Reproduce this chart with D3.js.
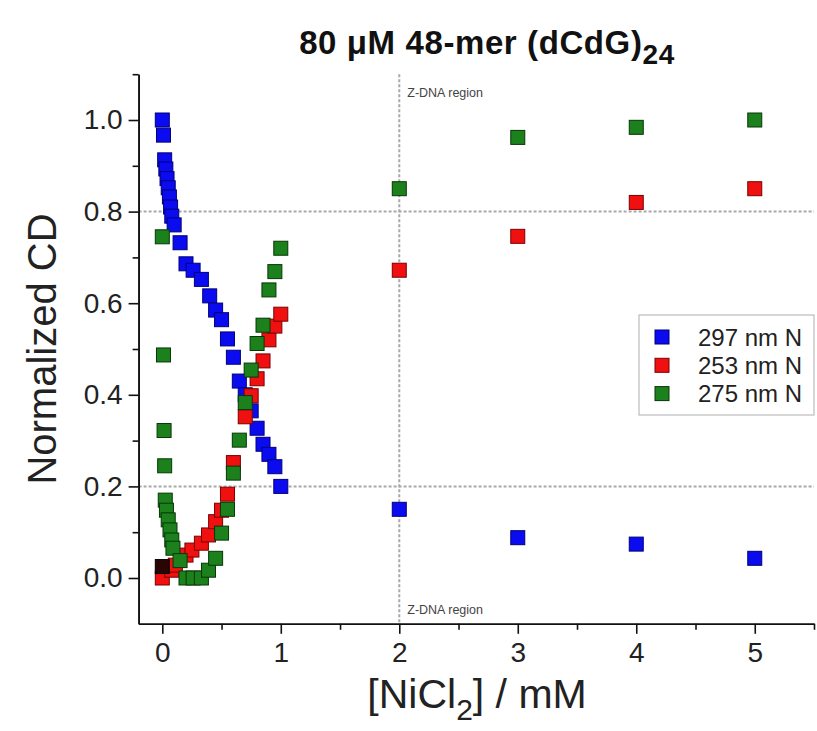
<!DOCTYPE html>
<html>
<head>
<meta charset="utf-8">
<script src="https://cdn.jsdelivr.net/npm/d3@7"></script>
<style>
  html, body { margin: 0; padding: 0; background: #fff; }
  svg { display: block; font-family: "Liberation Sans", Arial, sans-serif; }
</style>
</head>
<body>
<svg id="chart" width="817" height="731"></svg>
<script>
// ---------------- data ----------------
const seriesNames = ["297 nm N", "253 nm N", "275 nm N"];

const blueX = [0, 0.01, 0.02, 0.03, 0.04, 0.05, 0.06, 0.07, 0.08, 0.1, 0.15, 0.2, 0.26, 0.33, 0.4, 0.45, 0.5, 0.55, 0.6, 0.65, 0.7, 0.75, 0.8, 0.85, 0.9, 0.95, 1.0, 2, 3, 4, 5];
const blueY = [1.0, 0.967, 0.913, 0.893, 0.872, 0.852, 0.832, 0.81, 0.79, 0.771, 0.732, 0.686, 0.672, 0.652, 0.616, 0.585, 0.564, 0.522, 0.482, 0.43, 0.40, 0.365, 0.327, 0.292, 0.27, 0.243, 0.2, 0.15, 0.088, 0.074, 0.043];

const redX = [0, 0.08, 0.11, 0.2, 0.25, 0.33, 0.39, 0.45, 0.5, 0.55, 0.6, 0.7, 0.75, 0.8, 0.85, 0.9, 0.95, 1.0, 2, 3, 4, 5];
const redY = [0.0, 0.017, 0.028, 0.05, 0.061, 0.076, 0.094, 0.123, 0.148, 0.183, 0.252, 0.352, 0.398, 0.435, 0.474, 0.52, 0.55, 0.576, 0.672, 0.746, 0.82, 0.85];

const greenX = [0, 0.01, 0.015, 0.02, 0.025, 0.035, 0.05, 0.065, 0.08, 0.09, 0.15, 0.2, 0.26, 0.33, 0.39, 0.45, 0.5, 0.55, 0.6, 0.65, 0.7, 0.75, 0.8, 0.85, 0.9, 0.95, 1.0, 2, 3, 4, 5];
const greenY = [0.745, 0.487, 0.322, 0.245, 0.17, 0.148, 0.127, 0.105, 0.083, 0.065, 0.038, 0.0, 0.0, 0.0, 0.017, 0.043, 0.098, 0.15, 0.229, 0.301, 0.383, 0.454, 0.512, 0.552, 0.629, 0.669, 0.72, 0.85, 0.962, 0.984, 1.0];

// overlapping dark point near the origin
const darkX = [0];
const darkY = [0.025];

const xMajorTicks = [0, 1, 2, 3, 4, 5];
const xMinorTicks = [0.5, 1.5, 2.5, 3.5, 4.5, 5.5];
const yMajorTicks = [0.0, 0.2, 0.4, 0.6, 0.8, 1.0];
const yMinorTicks = [0.1, 0.3, 0.5, 0.7, 0.9, 1.1];
const refLinesY = [0.2, 0.8];
const refLineX = 2;
const regionLabel = "Z-DNA region";

(function draw() {
  const svg = d3.select("#chart");
  const pLeft = 138.6, pTop = 74.2, pRight = 814, pBottom = 623.8;

  const x = d3.scaleLinear().domain([-0.2, 5.5]).range([pLeft, pRight]);
  const y = d3.scaleLinear().domain([-0.1, 1.1]).range([pBottom, pTop]);

  // title
  const title = svg.append("text")
    .attr("x", 487).attr("y", 54)
    .attr("text-anchor", "middle")
    .attr("font-weight", "bold")
    .attr("font-size", 33)
    .attr("letter-spacing", 0.6)
    .attr("fill", "#111");
  title.append("tspan").text("80 \u03BCM 48-mer (dCdG)");
  title.append("tspan").attr("dy", 10).attr("font-size", 28).text("24");

  // reference dotted lines
  const refG = svg.append("g").attr("stroke", "#a8a8a8").attr("stroke-width", 2).attr("stroke-dasharray", "3,2");
  refLinesY.forEach(v => {
    refG.append("line").attr("x1", x(-0.2)).attr("x2", x(5.5)).attr("y1", y(v)).attr("y2", y(v));
  });
  refG.append("line").attr("x1", x(refLineX)).attr("x2", x(refLineX)).attr("y1", y(1.1)).attr("y2", y(-0.1));

  svg.append("text").attr("x", x(refLineX) + 8).attr("y", 97)
    .attr("font-size", 12.5).attr("fill", "#444").text(regionLabel);
  svg.append("text").attr("x", x(refLineX) + 8).attr("y", 614)
    .attr("font-size", 12.5).attr("fill", "#444").text(regionLabel);

  // axes
  const axisStyle = g => {
    g.selectAll("path, line").attr("stroke", "#111").attr("stroke-width", 1.6);
    g.selectAll("text").attr("fill", "#222").attr("font-family", "Liberation Sans, Arial, sans-serif");
  };

  svg.append("g").attr("transform", `translate(${pLeft},0)`)
    .call(d3.axisLeft(y).tickValues(yMinorTicks).tickSize(6).tickSizeOuter(0).tickFormat(""))
    .call(axisStyle);
  svg.append("g").attr("transform", `translate(${pLeft},0)`)
    .call(d3.axisLeft(y).tickValues(yMajorTicks).tickSize(10).tickSizeOuter(0).tickPadding(6).tickFormat(d3.format(".1f")))
    .call(axisStyle)
    .call(g => g.selectAll("text").attr("font-size", 28));

  svg.append("g").attr("transform", `translate(0,${pBottom})`)
    .call(d3.axisBottom(x).tickValues(xMinorTicks).tickSize(6).tickSizeOuter(0).tickFormat(""))
    .call(axisStyle);
  svg.append("g").attr("transform", `translate(0,${pBottom})`)
    .call(d3.axisBottom(x).tickValues(xMajorTicks).tickSize(10).tickSizeOuter(0).tickPadding(8).tickFormat(d3.format("d")))
    .call(axisStyle)
    .call(g => g.selectAll("text").attr("font-size", 28));

  // axis labels
  svg.append("text")
    .attr("transform", `translate(56,${(pTop + pBottom) / 2}) rotate(-90)`)
    .attr("text-anchor", "middle").attr("font-size", 40).attr("fill", "#222")
    .text("Normalized CD");

  const xl = svg.append("text")
    .attr("x", 477).attr("y", 708)
    .attr("text-anchor", "middle").attr("font-size", 41).attr("fill", "#222");
  xl.append("tspan").text("[NiCl");
  xl.append("tspan").attr("dy", 12).attr("font-size", 30).text("2");
  xl.append("tspan").attr("dy", -12).text("] / mM");

  // markers
  const S = 14;
  const series = [
    { name: seriesNames[0], xs: blueX, ys: blueY, fill: "#0b0bf0", stroke: "#00007a" },
    { name: seriesNames[1], xs: redX, ys: redY, fill: "#f01010", stroke: "#7a0000" },
    { name: seriesNames[2], xs: greenX, ys: greenY, fill: "#1c801c", stroke: "#063806" }
  ];

  series.forEach(s => {
    const pts = s.xs.map((v, i) => [v, s.ys[i]]);
    svg.append("g").selectAll("rect").data(pts).join("rect")
      .attr("x", d => x(d[0]) - S / 2).attr("y", d => y(d[1]) - S / 2)
      .attr("width", S).attr("height", S)
      .attr("fill", s.fill).attr("stroke", s.stroke).attr("stroke-width", 1);
  });

  svg.append("g").selectAll("rect").data(darkX.map((v, i) => [v, darkY[i]])).join("rect")
    .attr("x", d => x(d[0]) - S / 2).attr("y", d => y(d[1]) - S / 2)
    .attr("width", S).attr("height", S)
    .attr("fill", "#2a0505").attr("stroke", "#000").attr("stroke-width", 1);

  // legend
  const lg = svg.append("g");
  lg.append("rect").attr("x", 639).attr("y", 315).attr("width", 175).attr("height", 100)
    .attr("fill", "#fff").attr("stroke", "#bbb").attr("stroke-width", 1.2);
  series.forEach((s, i) => {
    const cy = 337 + i * 28.3;
    lg.append("rect").attr("x", 655).attr("y", cy - 7).attr("width", 14).attr("height", 14)
      .attr("fill", s.fill).attr("stroke", s.stroke).attr("stroke-width", 1);
    lg.append("text").attr("x", 698).attr("y", cy + 8.5)
      .attr("font-size", 24).attr("fill", "#222").text(s.name);
  });
})();
</script>
</body>
</html>
